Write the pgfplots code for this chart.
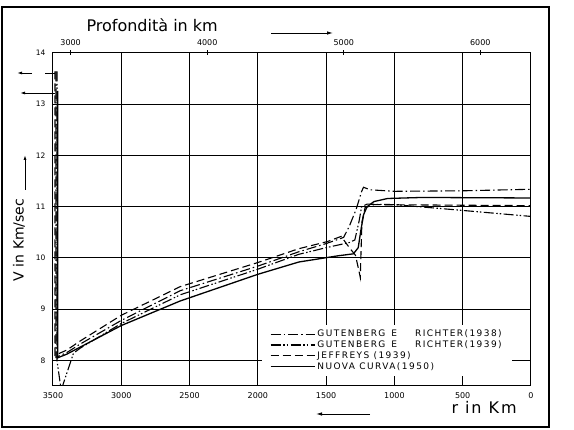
\documentclass[border=0pt]{standalone}
\usepackage{fontspec}
\setmainfont{DejaVu Sans}
\usepackage{pgfplots}
\pgfplotsset{compat=1.18}
\usetikzlibrary{arrows.meta}

\begin{document}
\begin{tikzpicture}[x=1pt,y=1pt]
\useasboundingbox (0,0) rectangle (574,430);
\draw[line width=1.1pt] (2,3) rectangle (549,423);

\begin{axis}[
  at={(53pt,44pt)}, anchor=south west,
  width=478pt, height=333pt, scale only axis,
  xmin=0, xmax=3500, x dir=reverse,
  ymin=7.5, ymax=14,
  xtick={0,500,...,3500},
  ytick={8,...,14},
  grid=major, grid style={black, line width=1pt},
  axis line style={line width=1pt},
  major tick length=0pt,
  /pgf/number format/assume math mode=true,
  /pgf/number format/1000 sep={},
  xticklabel style={font=\fontsize{8}{8}\selectfont, yshift=-3pt},
  yticklabel style={font=\fontsize{7.5}{8}\selectfont, xshift=-4pt},
  legend cell align=left,
  legend style={at={(rel axis cs:0.437,0.030)}, anchor=south west, fill=white, draw=none,
    font=\fontsize{9}{10}\selectfont\addfontfeatures{LetterSpace=16},
    inner xsep=8pt, inner ysep=3pt, row sep=-1.5pt,
    /tikz/every even column/.append style={column sep=9pt}},
  legend image code/.code={\draw[#1] (0pt,0pt) -- (44pt,0pt);},
]
% Gutenberg e Richter 1938
\addplot[black, line width=1.1pt, dash pattern=on 10pt off 3pt on 1.5pt off 3pt] coordinates {
(3478,13.64) (3478,8.06) (3400,8.15) (3300,8.32) (3000,8.78) (2568,9.36) (2000,9.84)
(1700,10.12) (1500,10.28) (1372,10.40) (1330,10.62) (1280,10.95) (1240,11.3) (1226,11.38)
(1180,11.33) (1000,11.30) (500,11.31) (0,11.34)};
\addlegendentry{GUTENBERG\hspace{6pt}E\hspace{18pt}RICHTER(1938)}
% Gutenberg e Richter 1939
\addplot[black, line width=1.1pt, dash pattern=on 10pt off 2.5pt on 1.5pt off 2pt on 1.5pt off 2.5pt] coordinates {
(3471,13.64) (3471,8.0) (3440,7.42) (3350,8.14) (3300,8.24) (3000,8.72) (2568,9.28) (2000,9.78)
(1700,10.07) (1500,10.20) (1330,10.30) (1290,10.35) (1260,10.7) (1240,11.0) (1200,11.05)
(1000,11.04) (600,10.95) (0,10.81)};
\addlegendentry{GUTENBERG\hspace{6pt}E\hspace{18pt}RICHTER(1939)}
% Jeffreys 1939
\addplot[black, line width=1.1pt, dash pattern=on 8pt off 4pt] coordinates {
(3485,13.64) (3485,8.10) (3400,8.2) (3300,8.38) (3000,8.88) (2568,9.44) (2000,9.91)
(1700,10.18) (1490,10.32) (1390,10.42) (1330,10.2) (1285,10.05) (1260,9.75) (1250,9.62)
(1238,10.7) (1215,10.98) (1150,11.04) (0,11.02)};
\addlegendentry{JEFFREYS (1939)}
% Nuova curva 1950
\addplot[black, line width=1.3pt] coordinates {
(3466,13.26) (3466,8.05) (3400,8.12) (3300,8.26) (3000,8.68) (2568,9.16) (2000,9.68)
(1700,9.92) (1416,10.04) (1300,10.08) (1265,10.2) (1245,10.55) (1225,10.85) (1200,11.0)
(1150,11.1) (1050,11.16) (800,11.18) (0,11.17)};
\addlegendentry{NUOVA CURVA(1950)}
\end{axis}

\begin{axis}[
  at={(53pt,44pt)}, anchor=south west,
  width=478pt, height=333pt, scale only axis,
  xmin=2871, xmax=6371, ymin=0, ymax=1,
  axis x line*=top, axis y line=none,
  xtick={3000,4000,5000,6000},
  major tick length=5pt, tick align=center,
  tick style={black, line width=0.9pt},
  axis line style={line width=1pt},
  /pgf/number format/assume math mode=true,
  /pgf/number format/1000 sep={},
  xticklabel style={font=\fontsize{8}{8}\selectfont, yshift=1pt},
]
\end{axis}

\node[anchor=base west, font=\fontsize{16}{16}\selectfont] at (83,398) {Profondità in km};
\draw[line width=0.9pt, -{Latex[length=6pt,width=3.5pt]}] (271,397) -- (333,397);
\node[anchor=base west, font=\fontsize{16}{16}\selectfont\addfontfeatures{LetterSpace=12}] at (448,16) {r in Km};
\draw[line width=0.9pt, -{Latex[length=6pt,width=3.5pt]}] (370,16) -- (316,16);
\node[rotate=90, font=\fontsize{14}{14}\selectfont] at (19,190) {V in Km/sec};
\draw[line width=0.9pt, -{Latex[length=5pt,width=3pt]}] (25,240) -- (25,275);
\draw[line width=0.9pt, -{Latex[length=5pt,width=3pt]}] (32,357) -- (17,357);
\draw[line width=0.9pt] (45,357) -- (55,357);
\draw[line width=0.9pt, -{Latex[length=5pt,width=3pt]}] (55,337) -- (20,337);
\end{tikzpicture}
\end{document}
